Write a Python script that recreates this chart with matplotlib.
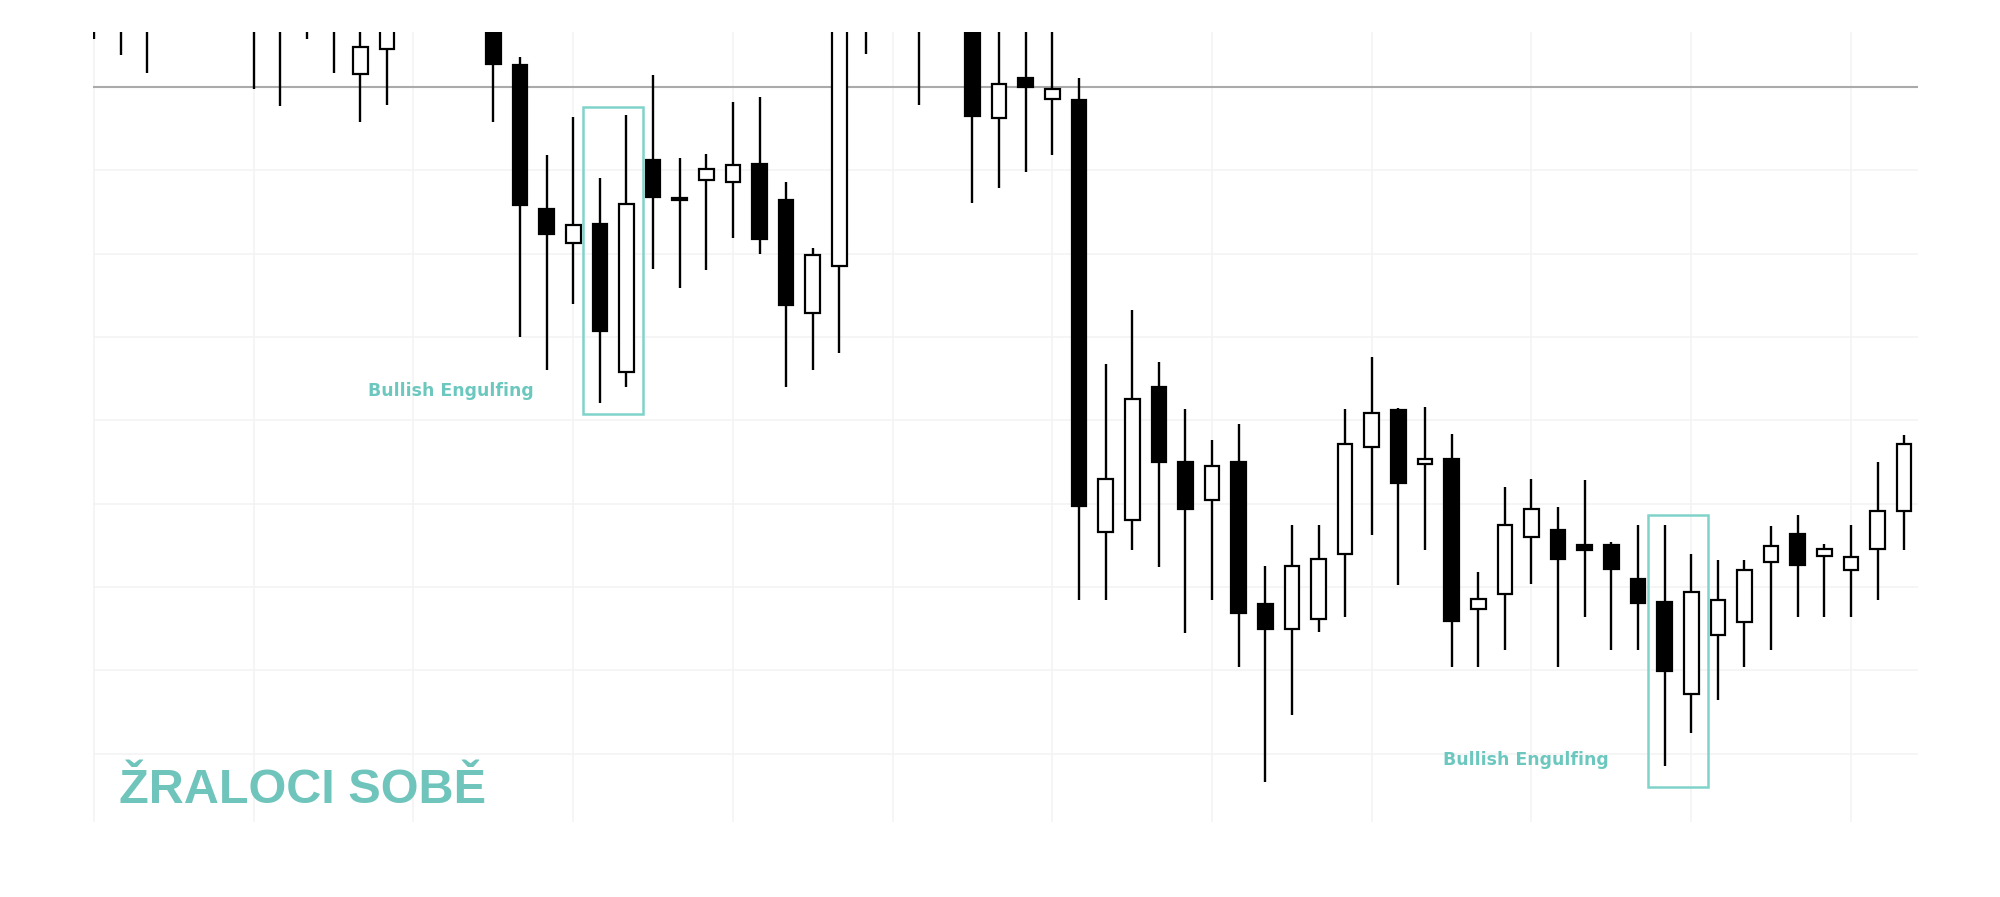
import numpy as np
import matplotlib
matplotlib.use('Agg')
import matplotlib.pyplot as plt
from matplotlib.patches import Rectangle

# OHLC per candle (index 0..68)
opens = [98.5, 98.0, 97.2, 99.0, 101.0, 102.5, 99.5, 98.0, 97.0, 98.5,
         91.6, 94.6, 98.0, 99.5, 101.0, 98.5, 92.6, 75.4, 71.3, 73.6,
         55.8, 81.2, 76.7, 78.8, 78.6, 80.8, 76.4, 62.9, 68.5, 98.0,
         101.0, 103.0, 100.0, 101.5, 86.3, 91.1, 88.5, 88.4, 36.6, 38.0,
         54.0, 45.0, 40.4, 45.0, 28.0, 25.0, 26.2, 34.0, 46.8, 51.2,
         44.7, 45.4, 27.3, 29.2, 36.0, 36.8, 35.0, 35.0, 31.0, 28.2,
         17.2, 24.2, 25.8, 33.0, 36.4, 33.7, 32.0, 34.6, 39.1]
highs = [100.0, 99.5, 100.0, 102.0, 104.0, 103.5, 101.0, 100.0, 99.5, 99.0,
         97.5, 98.5, 100.5, 102.0, 102.5, 100.0, 93.6, 81.8, 86.4, 79.1,
         86.6, 91.4, 81.5, 82.0, 88.2, 88.8, 78.6, 70.7, 101.0, 102.0,
         104.0, 104.5, 103.0, 103.0, 98.0, 98.5, 97.0, 91.1, 56.8, 63.2,
         57.0, 51.4, 47.6, 49.6, 32.5, 37.4, 37.4, 51.4, 57.6, 51.5,
         51.6, 48.4, 31.8, 42.0, 43.0, 39.6, 42.8, 35.4, 37.4, 37.4,
         34.0, 33.2, 33.2, 37.3, 38.6, 35.2, 37.4, 45.0, 48.2]
lows = [95.8, 93.8, 91.7, 97.5, 99.0, 98.0, 89.7, 87.7, 95.8, 91.7,
        85.8, 87.8, 97.2, 98.0, 97.5, 85.8, 60.0, 56.0, 64.0, 52.1,
        54.0, 68.2, 65.9, 68.0, 71.9, 69.9, 54.0, 56.0, 58.1, 94.0,
        99.5, 87.8, 98.0, 76.1, 77.9, 79.8, 81.8, 28.4, 28.4, 34.4,
        32.4, 24.5, 28.4, 20.4, 6.6, 14.6, 24.6, 26.4, 36.2, 30.2,
        34.4, 20.4, 20.4, 22.5, 30.4, 20.4, 26.4, 22.5, 22.5, 8.5,
        12.5, 16.5, 20.4, 22.5, 26.4, 26.4, 26.4, 28.4, 34.4]
closes = [99.0, 97.5, 98.0, 101.0, 102.5, 100.0, 97.8, 97.2, 98.5, 97.5,
          94.8, 97.5, 99.5, 101.0, 99.0, 92.8, 75.8, 72.4, 73.4, 60.7,
          75.9, 76.8, 76.4, 80.2, 80.6, 71.8, 63.8, 69.8, 99.0, 101.0,
          103.0, 100.0, 101.5, 86.5, 90.4, 90.0, 89.8, 39.7, 43.0, 52.5,
          45.0, 39.3, 44.5, 26.9, 25.0, 32.5, 33.3, 47.1, 50.9, 42.5,
          45.3, 25.9, 28.6, 37.4, 39.4, 33.3, 34.4, 32.2, 28.1, 19.9,
          29.4, 28.4, 32.0, 34.9, 32.6, 34.6, 33.6, 39.1, 47.1]

level_line = 90.0
# bullish engulfing pairs: (first candle, second candle, top, bottom)
patterns = [(19, 20, 87.6, 50.8), (59, 60, 38.6, 6.0)]
pattern_text = 'Bullish Engulfing'
label_pos = [(13.4, 53.5), (53.8, 9.2)]
brand = 'ŽRALOCI SOBĚ'

teal = '#6cc8bf'
box_col = '#80d3cb'

o = np.array(opens)
h = np.array(highs)
l = np.array(lows)
c = np.array(closes)
idx = np.arange(len(o))
up = c >= o

fig = plt.figure(figsize=(20, 8.97), dpi=100)
ax = fig.add_axes([93/2000, 1-822/897, 1825/2000, 790/897])

# grid
for gx in range(0, 69, 6):
    ax.axvline(gx, color='#f4f4f4', lw=1.2, zorder=0)
for gy in range(10, 100, 10):
    ax.axhline(gy, color='#f3f3f3', lw=1.2, zorder=0)

ax.axhline(level_line, color='#aaaaaa', lw=1.5, zorder=1)

# wicks
ax.vlines(idx, l, h, color='black', lw=1.7, zorder=2)

# bodies
bot = np.minimum(o, c)
hgt = np.maximum(np.abs(c - o), 0.3)
w = 0.55
ax.bar(idx[up], hgt[up], bottom=bot[up], width=w, color='white',
       edgecolor='black', lw=1.6, zorder=3)
ax.bar(idx[~up], hgt[~up], bottom=bot[~up], width=w, color='black',
       edgecolor='black', lw=1.6, zorder=3)

for (a, b, top, btm), (tx, ty) in zip(patterns, label_pos):
    ax.add_patch(Rectangle((a - 0.62, btm), (b - a) + 1.24, top - btm,
                           fill=False, edgecolor=box_col, lw=1.8, zorder=4))
    ax.text(tx, ty, pattern_text, color=teal, fontsize=12.5, fontweight='heavy',
            family=['DejaVu Sans'], ha='center', va='center', zorder=5)

ax.text(0.0145, 0.024, brand, transform=ax.transAxes, color='#6fc4bc',
        fontsize=35, fontweight='bold', family=['Liberation Sans', 'DejaVu Sans'],
        ha='left', va='baseline', zorder=5)

ax.set_xlim(-0.04, 68.52)
ax.set_ylim(1.8, 96.6)
ax.set_xticks([])
ax.set_yticks([])
for s in ax.spines.values():
    s.set_visible(False)

fig.savefig('out.png', dpi=100, facecolor='white')
